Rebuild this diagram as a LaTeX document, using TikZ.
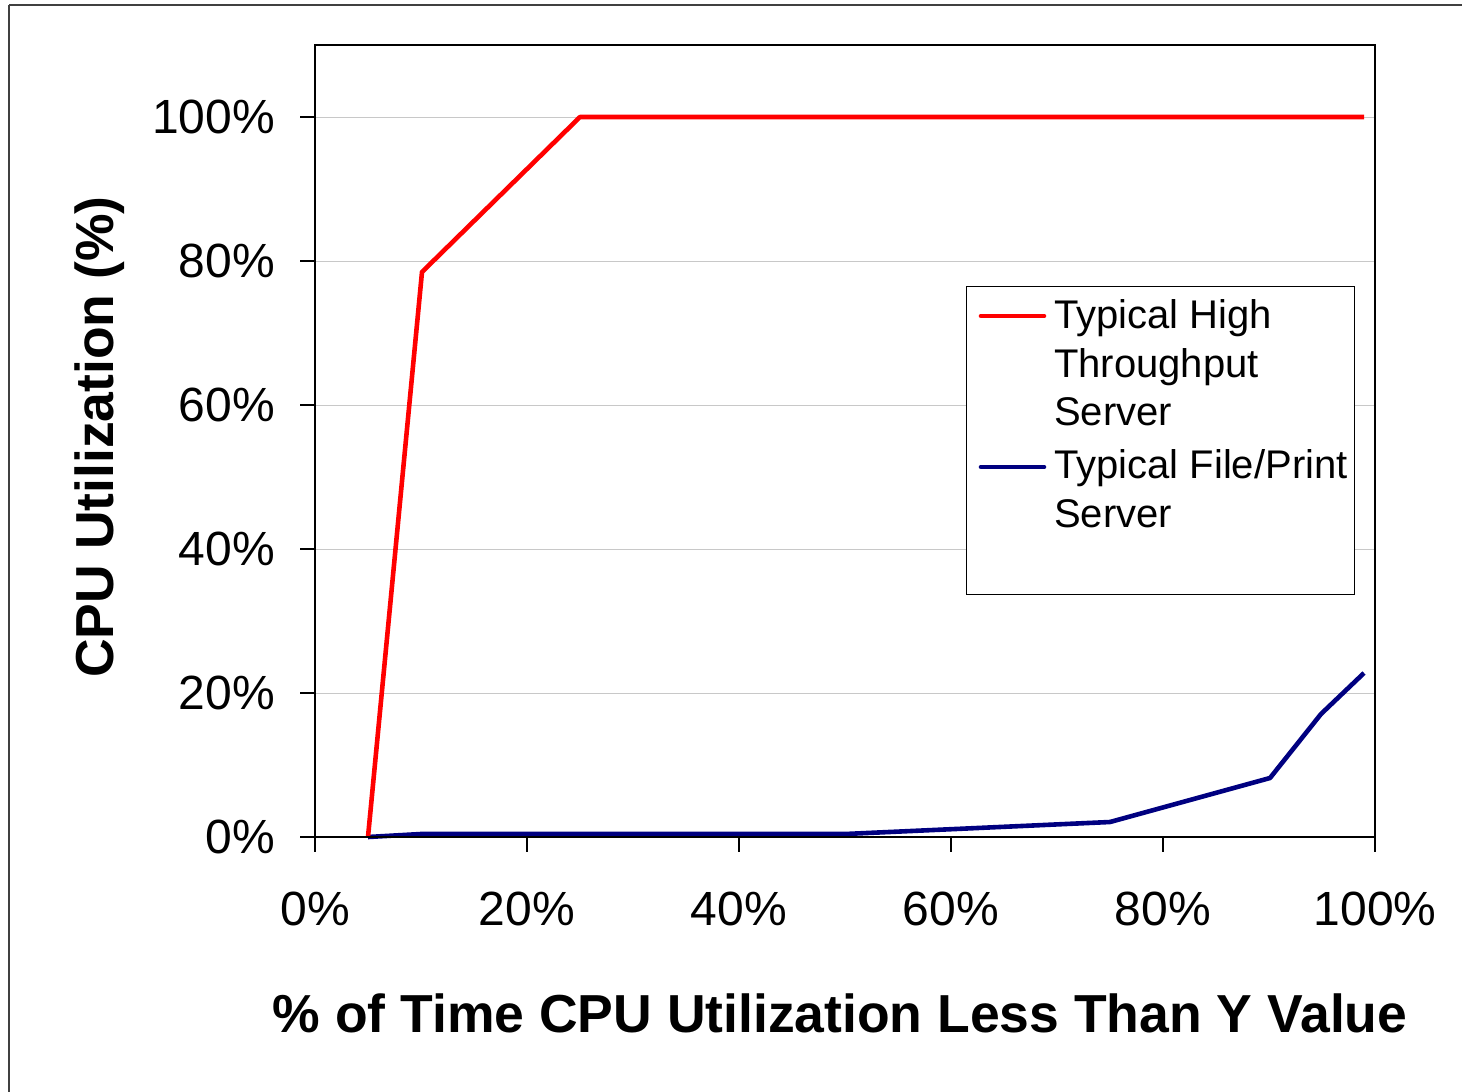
\documentclass[tikz,border=0pt]{standalone}
\usepackage{fontspec}
\setmainfont{Liberation Sans}
\definecolor{serverred}{HTML}{FF0000}
\definecolor{servernavy}{HTML}{000080}
\definecolor{gridgray}{HTML}{C8C8C8}

\begin{document}
\begin{tikzpicture}[x=1pt,y=-1pt,
  ticklabel/.style={inner sep=0pt,font=\fontsize{48}{56}\selectfont},
  legtext/.style={anchor=base west,inner sep=0pt,font=\fontsize{40}{48}\selectfont},
  axistitle/.style={anchor=base,inner sep=0pt,font=\fontsize{53.5}{60}\selectfont\bfseries},
  series/.style={line width=4.6pt,line join=round}]
\useasboundingbox (0,0) rectangle (1462,1092);
\draw[black!75,line width=2pt] (9,5) -- (1470,5);
\draw[black!75,line width=2pt] (9,5) -- (9,1100);
% grid lines
\draw[gridgray,line width=1pt] (315,693) -- (1375,693);
\draw[gridgray,line width=1pt] (315,549) -- (1375,549);
\draw[gridgray,line width=1pt] (315,405) -- (1375,405);
\draw[gridgray,line width=1pt] (315,261) -- (1375,261);
\draw[gridgray,line width=1pt] (315,117) -- (1375,117);
% y ticks and labels
\draw[line width=1.2pt] (300,837) -- (315,837);
\node[ticklabel,anchor=east] (y0) at (275,837) {0\%};
\draw[line width=1.2pt] (300,693) -- (315,693);
\node[ticklabel,anchor=east] (y20) at (275,693) {20\%};
\draw[line width=1.2pt] (300,549) -- (315,549);
\node[ticklabel,anchor=east] (y40) at (275,549) {40\%};
\draw[line width=1.2pt] (300,405) -- (315,405);
\node[ticklabel,anchor=east] (y60) at (275,405) {60\%};
\draw[line width=1.2pt] (300,261) -- (315,261);
\node[ticklabel,anchor=east] (y80) at (275,261) {80\%};
\draw[line width=1.2pt] (300,117) -- (315,117);
\node[ticklabel,anchor=east] (y100) at (275,117) {100\%};
% x ticks and labels
\draw[line width=1.2pt] (315,837) -- (315,852);
\node[ticklabel] (x0) at (315,909) {0\%};
\draw[line width=1.2pt] (527,837) -- (527,852);
\node[ticklabel] (x20) at (527,909) {20\%};
\draw[line width=1.2pt] (739,837) -- (739,852);
\node[ticklabel] (x40) at (739,909) {40\%};
\draw[line width=1.2pt] (951,837) -- (951,852);
\node[ticklabel] (x60) at (951,909) {60\%};
\draw[line width=1.2pt] (1163,837) -- (1163,852);
\node[ticklabel] (x80) at (1163,909) {80\%};
\draw[line width=1.2pt] (1375,837) -- (1375,852);
\node[ticklabel] (x100) at (1375,909) {100\%};
% data
\draw[series,servernavy] (368,837) -- (421,834) -- (845,834) -- (1110,822) -- (1270,778) -- (1321,714) -- (1364,673);
\draw[series,serverred] (368,837) -- (422,272) -- (580,117) -- (1364,117);
% plot frame
\draw[line width=2.5pt] (315,45) rectangle (1375,837);
% legend
\draw[line width=1pt,fill=white] (966,286) rectangle (1354,594);
\coordinate (legA1) at (981,316);
\coordinate (legA2) at (1044,316);
\draw[series,serverred,line cap=round] (legA1) -- (legA2);
\node[legtext] (legA) at (1054,328) {Typical High};
\node[legtext] (legAb) at (1054,377) {Throughput};
\node[legtext] (legAc) at (1054,425) {Server};
\coordinate (legB1) at (981,467);
\coordinate (legB2) at (1044,467);
\draw[series,servernavy,line cap=round] (legB1) -- (legB2);
\node[legtext] (legB) at (1054,478) {Typical File/Print};
\node[legtext] (legBb) at (1054,527) {Server};
% axis titles
\node[axistitle] (xtitle) at (840,1032) {\% of Time CPU Utilization Less Than Y Value};
\node[axistitle,rotate=90] (ytitle) at (113,437) {CPU Utilization (\%)};
\end{tikzpicture}
\end{document}
